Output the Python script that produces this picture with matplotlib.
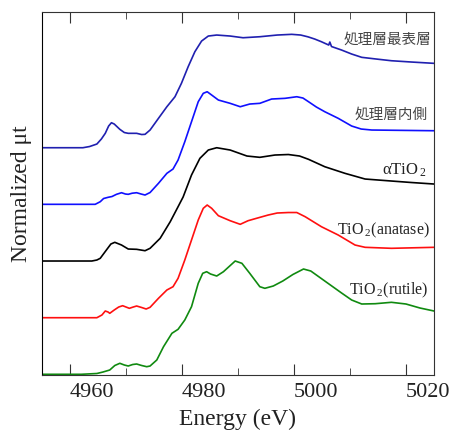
import matplotlib
matplotlib.use("Agg")
import matplotlib.pyplot as plt
from matplotlib.ticker import MultipleLocator

plt.rcParams['font.family'] = ['Liberation Serif', 'DejaVu Serif']
plt.rcParams['mathtext.fontset'] = 'custom'
plt.rcParams['mathtext.rm'] = 'Liberation Serif'
plt.rcParams['mathtext.it'] = 'Liberation Serif:italic'

# spectra (stacked with offsets, arbitrary units)
e_top = [4955, 4962.3, 4963.5, 4964.8, 4965.6, 4966.3, 4966.9, 4967.4, 4967.9, 4968.9,
         4969.7, 4970.4, 4971.9, 4972.8, 4973.4, 4974.3, 4975.8, 4977.3, 4978.75, 4979.9,
         4981.1, 4982.3, 4983.5, 4984.7, 4986.2, 4988.6, 4990.9, 4993.9, 4997.0, 4999.6,
         5001.2, 5002.5, 5003.7, 5004.9, 5006.2, 5006.4, 5006.7, 5008.5, 5010.3, 5012.1,
         5014.7, 5017.4, 5021.0, 5025]
mu_top = [227.3, 227.3, 228.5, 231, 236, 241.7, 249, 252.3, 251, 245.7,
          242.5, 241.7, 241.7, 240.5, 240.7, 245, 256.7, 268.3, 278.3, 291.7,
          308.3, 323.3, 334, 339, 340, 339, 337.3, 338.3, 340, 340.7,
          340, 338.2, 336, 333.3, 330, 333, 328.5, 325, 321, 317.7,
          316, 314.3, 313, 311.7]

e_inner = [4955, 4964.5, 4965.4, 4966.0, 4966.8, 4967.5, 4968.3, 4969.2, 4969.9, 4970.4,
           4971.1, 4971.9, 4972.7, 4973.4, 4974.3, 4975.8, 4977.3, 4978.4, 4979.3, 4980.5,
           4981.7, 4982.9, 4983.8, 4984.5, 4985.3, 4986.5, 4988.6, 4990.4, 4992.1, 4993.9,
           4996.0, 4998.4, 5000.5, 5001.6, 5002.6, 5004.0, 5005.5, 5007.9, 5010.3, 5012.0,
           5013.9, 5025]
mu_inner = [170.7, 170.7, 173.3, 176.5, 177.7, 178.5, 180.7, 182.3, 181, 180.7,
            181.8, 182.3, 181, 180, 182.5, 191.7, 201.7, 206, 215, 233.3,
            253.3, 273.3, 281.7, 283.3, 280, 275, 271.7, 268.3, 271, 271.7,
            276, 276.7, 278.3, 277, 273.3, 268, 263.3, 256.7, 249, 246,
            245, 244.3]

e_alpha = [4955, 4963.9, 4964.8, 4965.4, 4966.5, 4967.3, 4968.0, 4969.2, 4970.4, 4971.9,
           4973.4, 4974.3, 4976.1, 4977.9, 4979.3, 4980.2, 4981.7, 4983.2, 4984.7, 4986.2,
           4988.6, 4991.6, 4993.9, 4996.6, 4999.0, 5001.0, 5002.6, 5005.5, 5009.1, 5012.7,
           5017.4, 5021.0, 5025]
mu_alpha = [114, 114, 115, 116.7, 125, 131, 132.7, 130, 126, 125.7,
            124.3, 126.7, 136.7, 153.3, 168.3, 178, 200, 216.7, 225, 227.3,
            225, 219, 217.7, 220, 220.5, 219, 215.7, 208.3, 201.7, 196,
            194, 192.5, 191]

e_anatase = [4955, 4964.8, 4965.7, 4966.3, 4966.8, 4967.1, 4967.9, 4968.7, 4969.4, 4970.6,
             4971.3, 4971.9, 4972.8, 4973.6, 4974.3, 4975.8, 4977.3, 4978.4, 4979.3, 4980.5,
             4981.7, 4982.9, 4983.8, 4984.5, 4985.3, 4986.5, 4988.6, 4990.4, 4991.8, 4993.3,
             4995.4, 4997.0, 4999.0, 5000.5, 5002.0, 5004.9, 5007.9, 5010.9, 5012.7, 5017.4,
             5025]
mu_anatase = [57.3, 57.3, 60, 64, 63, 61.7, 65, 68, 69.3, 66.7,
              68, 69, 67.5, 66, 67.7, 76.7, 85, 88.3, 96.7, 115,
              135, 155, 166.7, 170, 166.7, 159.3, 154.3, 150.7, 154.3, 156.7,
              160, 162, 162.5, 162.5, 158.3, 148.3, 140, 130, 127.7, 126.7,
              127.7]

e_rutile = [4955, 4962.0, 4964.8, 4965.9, 4967.1, 4968.0, 4968.9, 4969.7, 4970.4, 4971.2,
            4971.9, 4972.8, 4973.7, 4974.3, 4975.5, 4976.7, 4978.2, 4979.3, 4980.5, 4981.7,
            4982.9, 4983.7, 4984.4, 4985.1, 4986.2, 4987.4, 4989.5, 4990.7, 4992.1, 4993.9,
            4994.8, 4996.3, 4998.0, 4999.8, 5001.7, 5003.0, 5005.5, 5008.5, 5010.3, 5012.1,
            5014.5, 5017.4, 5020.0, 5022.5, 5025]
mu_rutile = [0.7, 0.7, 1.5, 3, 5, 9.5, 11.7, 10, 9, 10.5,
             11, 9.5, 8.3, 9, 15, 28.3, 41.7, 45.7, 55, 68.3,
             91.7, 101.7, 103.3, 101, 99, 103.3, 114, 111.7, 101.7, 88.3,
             86.7, 89, 94, 100.5, 106, 104, 94, 82, 75, 71,
             71.3, 72.7, 71, 67, 64]

labels = ['処理層最表層', '処理層内側', r'αTiO$\,_2$', r'TiO$\,_2$(anatase)', r'TiO$\,_2$(rutile)']
colors = ['#2020b0', '#1010ff', 'black', '#ff1010', '#108a10']
xticks = [4960, 4980, 5000, 5020]

fig = plt.figure(figsize=(4.55, 4.30), dpi=100)
ax = fig.add_axes([0.0923, 0.1279, 0.8615, 0.8441])

ax.plot(e_top, mu_top, color=colors[0], lw=1.2)
ax.plot(e_inner, mu_inner, color=colors[1], lw=1.2)
ax.plot(e_alpha, mu_alpha, color=colors[2], lw=1.2)
ax.plot(e_anatase, mu_anatase, color=colors[3], lw=1.2)
ax.plot(e_rutile, mu_rutile, color=colors[4], lw=1.2)

jp = ['Noto Sans CJK JP', 'DejaVu Sans']
ax.text(5024.6, 335, labels[0], family=jp, fontsize=10.5, color='#444444', ha='right', va='center')
ax.text(5023.8, 260, labels[1], family=jp, fontsize=10.5, color='#444444', ha='right', va='center')
ax.text(5023.8, 205, labels[2], fontsize=12, color='#222222', ha='right', va='center')
ax.text(5024.2, 145, labels[3], fontsize=11.5, color='#222222', ha='right', va='center')
ax.text(5024.0, 85, labels[4], fontsize=11.5, color='#222222', ha='right', va='center')

ax.set_xlim(4955, 5025)
ax.set_ylim(0, 363)
ax.set_xticks(xticks, [str(t) for t in xticks], ha='left')
ax.xaxis.set_minor_locator(MultipleLocator(10))
ax.set_yticks([])
ax.tick_params(axis='x', which='both', direction='in', top=True, bottom=True,
               labelsize=16, pad=6, colors='#333333', labelcolor='#222222')
ax.tick_params(axis='x', which='major', length=8)
ax.tick_params(axis='x', which='minor', length=5)
for s in ax.spines.values():
    s.set_color('#333333')
ax.spines['left'].set_color('black')

ax.set_xlabel('Energy (eV)', fontsize=17, color='#222222', labelpad=5)
ax.set_ylabel('Normalized μt', fontsize=17, color='#222222', labelpad=7)

fig.savefig('out.png', dpi=100)
